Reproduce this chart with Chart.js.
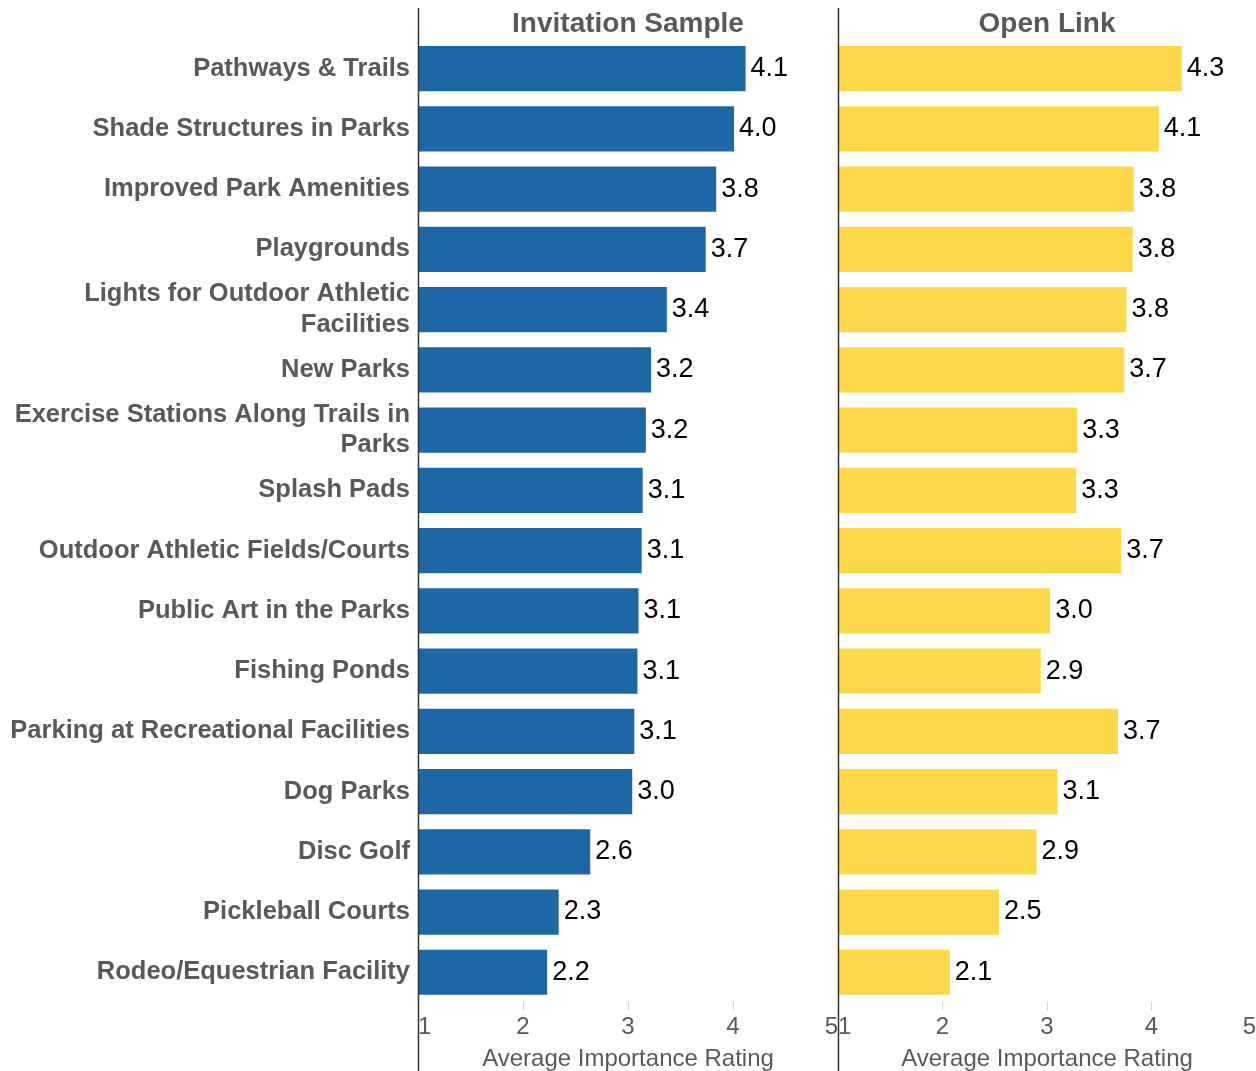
<!DOCTYPE html>
<html>
<head>
<meta charset="utf-8">
<script src="https://cdn.jsdelivr.net/npm/chart.js@4/dist/chart.umd.min.js"></script>
<style>
  html, body { margin: 0; padding: 0; background: #fff; overflow: hidden; }
  #wrap { position: relative; width: 1256px; height: 1071px; overflow: hidden; }
  #left { position: absolute; left: 0; top: 0; }
  #right { position: absolute; left: 820px; top: 0; }
</style>
</head>
<body>
<div id="wrap">
  <canvas id="left" width="862" height="1074"></canvas>
  <canvas id="right" width="460" height="1074"></canvas>
</div>
<script>
// --- Data ---
const categories = [
  "Pathways & Trails",
  "Shade Structures in Parks",
  "Improved Park Amenities",
  "Playgrounds",
  ["Lights for Outdoor Athletic", "Facilities"],
  "New Parks",
  ["Exercise Stations Along Trails in", "Parks"],
  "Splash Pads",
  "Outdoor Athletic Fields/Courts",
  "Public Art in the Parks",
  "Fishing Ponds",
  "Parking at Recreational Facilities",
  "Dog Parks",
  "Disc Golf",
  "Pickleball Courts",
  "Rodeo/Equestrian Facility"
];
const invitationSample = [4.12, 4.01, 3.84, 3.74, 3.37, 3.22, 3.17, 3.14, 3.13, 3.10, 3.09, 3.06, 3.04, 2.64, 2.34, 2.23];
const openLink = [4.29, 4.07, 3.83, 3.82, 3.76, 3.74, 3.29, 3.28, 3.71, 3.03, 2.94, 3.68, 3.10, 2.90, 2.54, 2.07];
const xTicks = [1, 2, 3, 4, 5];

const FONT = "'Liberation Sans', Arial, sans-serif";
const GRAY = "#595959";

// --- Plugins ---
const valueLabels = {
  id: "valueLabels",
  afterDatasetsDraw(chart) {
    const ctx = chart.ctx;
    const meta = chart.getDatasetMeta(0);
    const data = chart.data.datasets[0].data;
    ctx.save();
    ctx.font = "27px " + FONT;
    ctx.fillStyle = "#000";
    ctx.textBaseline = "middle";
    ctx.textAlign = "left";
    meta.data.forEach((bar, i) => ctx.fillText(data[i].toFixed(1), bar.x + 5, bar.y));
    ctx.restore();
  }
};

const panelLine = {
  id: "panelLine",
  afterDraw(chart) {
    const ctx = chart.ctx;
    const x = Math.round(chart.chartArea.left) + 0.5;
    ctx.save();
    ctx.strokeStyle = "#333";
    ctx.lineWidth = 1.5;
    ctx.beginPath();
    ctx.moveTo(x, 8);
    ctx.lineTo(x, chart.height);
    ctx.stroke();
    ctx.restore();
  }
};

function makePanel(id, title, values, color, showLabels, yWidth, padding) {
  return new Chart(document.getElementById(id), {
    type: "bar",
    data: {
      labels: categories,
      datasets: [{
        data: values,
        base: 1,
        backgroundColor: color,
        barPercentage: 0.75,
        categoryPercentage: 1
      }]
    },
    options: {
      indexAxis: "y",
      responsive: false,
      animation: false,
      layout: { padding },
      plugins: {
        legend: { display: false },
        tooltip: { enabled: false },
        title: {
          display: true,
          text: title,
          fullSize: false,
          color: GRAY,
          font: { family: FONT, size: 28, weight: "bold", lineHeight: 1 },
          padding: { top: 10.5, bottom: 0 }
        }
      },
      scales: {
        x: {
          min: 1,
          max: 5,
          afterBuildTicks: s => { s.ticks = xTicks.map(v => ({ value: v })); },
          border: { display: false },
          grid: {
            drawOnChartArea: false,
            drawTicks: true,
            tickLength: 8,
            color: c => (c.tick && (c.tick.value === 1 || c.tick.value === 5)) ? "rgba(0,0,0,0)" : "#d0d0d0"
          },
          ticks: { align: "inner", color: GRAY, padding: 3, font: { family: FONT, size: 24 } },
          title: {
            display: true,
            text: "Average Importance Rating",
            color: GRAY,
            font: { family: FONT, size: 24 },
            padding: { top: 0, bottom: 0 }
          }
        },
        y: {
          afterFit: s => { s.width = yWidth; },
          border: { display: false },
          grid: { display: false, drawTicks: false },
          ticks: {
            display: showLabels,
            autoSkip: false,
            color: GRAY,
            padding: 8,
            font: { family: FONT, size: 25.5, weight: "bold", lineHeight: 1.2 }
          }
        }
      }
    },
    plugins: [valueLabels, panelLine]
  });
}

makePanel("left", "Invitation Sample", invitationSample, "#1e67a6", true, 418, { left: 0, right: 24, top: 0, bottom: 0 });
makePanel("right", "Open Link", openLink, "#ffd84a", false, 18, { left: 0, right: 24, top: 0, bottom: 0 });
</script>
</body>
</html>
